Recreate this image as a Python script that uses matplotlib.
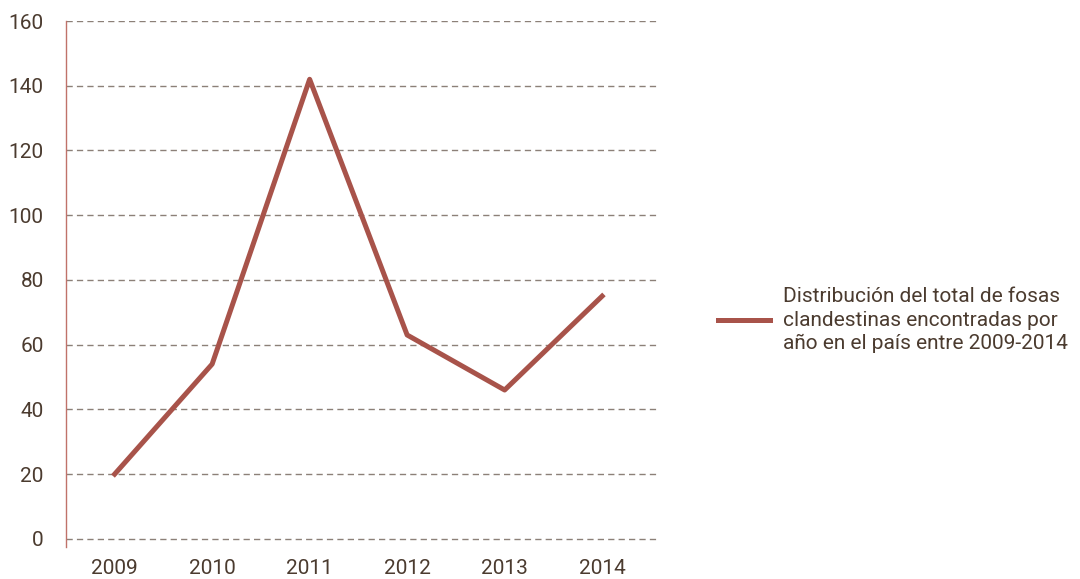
import matplotlib
matplotlib.use("Agg")
import matplotlib.pyplot as plt

# data
years = ['2009', '2010', '2011', '2012', '2013', '2014']
fosas = [20, 54, 142, 63, 46, 75]
y_ticks = [0, 20, 40, 60, 80, 100, 120, 140, 160]
label = 'Distribución del total de fosas\nclandestinas encontradas por\naño en el país entre 2009-2014'

line_color = '#a8534a'
text_color = '#4b3b2f'
grid_color = '#8c8078'

plt.rcParams['font.family'] = ['Roboto', 'DejaVu Sans']

fig = plt.figure(figsize=(10.8, 5.79), dpi=100)
ax = fig.add_axes([0.061, 0.0553, 0.548, 0.9084])

x = list(range(len(years)))
ax.plot(x, fosas, color=line_color, linewidth=3.6, label=label, zorder=3)

ax.set_xlim(-0.5, 5.57)
ax.set_ylim(-2.5, 160)
ax.set_xticks(x)
ax.set_xticklabels(years)
ax.set_yticks(y_ticks)

for y in y_ticks:
    ax.axhline(y, color=grid_color, linewidth=1, linestyle=(0, (4.5, 3)), zorder=1)

for s in ['top', 'right', 'bottom']:
    ax.spines[s].set_visible(False)
ax.spines['left'].set_color('#c0726a')
ax.spines['left'].set_linewidth(1.0)

ax.tick_params(axis='both', length=0, labelsize=15, labelcolor=text_color)
ax.tick_params(axis='y', pad=16)
ax.tick_params(axis='x', pad=9)

leg = ax.legend(loc='center left', bbox_to_anchor=(0.647, 0.447), bbox_transform=fig.transFigure,
                frameon=False, fontsize=15, handlelength=2.5, handletextpad=0.65, labelspacing=0)
for t in leg.get_texts():
    t.set_color(text_color)
    t.set_linespacing(1.3)

fig.savefig('out.png', dpi=100)
